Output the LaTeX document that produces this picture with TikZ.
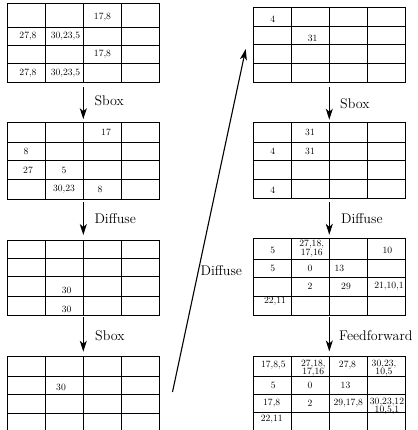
\documentclass[tikz,border=0pt]{standalone}
\usetikzlibrary{arrows.meta}
\newcommand{\mygrid}[7]{%
  \node[gridline, draw, anchor=north west, inner sep=0pt, outer sep=0pt,
        minimum width=152pt, minimum height={#7-#3}] (#1) at (#2,#3) {};
  \foreach \yy in {#4,#5,#6} \draw[gridline] (#2,\yy) -- ++(152,0);
  \foreach \ii in {1,2,3} \draw[gridline] (#2+\ii*38,#3) -- (#2+\ii*38,#7);
}
\begin{document}
\begin{tikzpicture}[x=1pt,y=-1pt,
  gridline/.style={line width=1pt},
  cell/.style={font=\fontsize{9.6}{8.4}\selectfont, inner sep=0pt, align=center},
  lbl/.style={font=\fontsize{14}{16}\selectfont, inner sep=0pt, anchor=west},
  flow/.style={line width=1.1pt, -{Stealth[length=11pt,width=7pt,inset=3pt]}}]
\useasboundingbox (0,0) rectangle (417,430);
\clip (0,0) rectangle (417,430);

% grids
\mygrid{L1}{7.3}{4}{27.3}{45.7}{64}{82.7}
\mygrid{L2}{7.3}{122.7}{142.3}{160.7}{179.3}{199.3}
\mygrid{L3}{7.3}{240}{258.3}{276.7}{296}{315}
\mygrid{L4}{7.3}{356.7}{376}{394}{413.3}{432.5}
\mygrid{R1}{253.3}{7.3}{26.7}{45}{64}{82.7}
\mygrid{R2}{253.3}{122.7}{142.3}{160.7}{179.3}{198.3}
\mygrid{R3}{253.3}{238.3}{259}{277.3}{296}{315}
\mygrid{R4}{253.3}{356}{376}{394}{412.7}{432}

% cells L1
\node[cell] (l1a) at (102.5,17) {17,8};
\node[cell] (l1b) at (28,36) {27,8};
\node[cell] (l1c) at (65.5,36) {30,23,5};
\node[cell] (l1d) at (102.5,54.5) {17,8};
\node[cell] (l1e) at (28,73) {27,8};
\node[cell] (l1f) at (65.5,73) {30,23,5};
% cells L2
\node[cell] (l2a) at (106,132.5) {17};
\node[cell] (l2b) at (26,151) {8};
\node[cell] (l2c) at (28,170) {27};
\node[cell] (l2d) at (64,170) {5};
\node[cell] (l2e) at (64,189) {30,23};
\node[cell] (l2f) at (100,189) {8};
% cells L3
\node[cell] (l3a) at (66.7,290) {30};
\node[cell] (l3b) at (66.7,309) {30};
% cells L4
\node[cell] (l4a) at (61,387) {30};
% cells R1
\node[cell] (r1a) at (272.7,19) {4};
\node[cell] (r1b) at (312.7,38) {31};
% cells R2
\node[cell] (r2a) at (310,132.5) {31};
\node[cell] (r2b) at (272.7,151.5) {4};
\node[cell] (r2c) at (310,151.5) {31};
\node[cell] (r2d) at (272.7,190) {4};
% cells R3
\node[cell] (r3a) at (272.7,250) {5};
\node[cell] (r3b) at (311.7,248.5) {27,18,\\17,16};
\node[cell] (r3c) at (387.3,250) {10};
\node[cell] (r3d) at (272.7,268.3) {5};
\node[cell] (r3e) at (310,268.3) {0};
\node[cell] (r3f) at (339.3,268.3) {13};
\node[cell] (r3g) at (310,286) {2};
\node[cell] (r3h) at (346,286) {29};
\node[cell] (r3i) at (389,286) {21,10,1};
\node[cell] (r3j) at (275,301.7) {22,11};
% cells R4
\node[cell] (r4a) at (273.3,365.5) {17,8,5};
\node[cell] (r4b) at (313.3,368) {27,18,\\17,16};
\node[cell] (r4c) at (347.5,365.5) {27,8};
\node[cell] (r4d) at (384,368) {30,23,\\10,5};
\node[cell] (r4e) at (273.3,385) {5};
\node[cell] (r4f) at (310,385) {0};
\node[cell] (r4g) at (345.5,385) {13};
\node[cell] (r4h) at (271.7,403.5) {17,8};
\node[cell] (r4i) at (310,403.5) {2};
\node[cell] (r4j) at (348.3,403.5) {29,17,8};
\node[cell] (r4k) at (387,406.5) {30,23,12\\10,5,1};
\node[cell] (r4l) at (271.7,419.3) {22,11};

% arrows
\draw[flow, shorten <=4.5pt, shorten >=3.5pt] (L1.south) -- (L2.north);
\draw[flow, shorten <=2.5pt, shorten >=5pt] (L2.south) -- (L3.north);
\draw[flow, shorten <=2pt, shorten >=5pt] (L3.south) -- (L4.north);
\draw[flow, shorten <=4pt, shorten >=3pt] (R1.south) -- (R2.north);
\draw[flow, shorten <=3.5pt, shorten >=3.5pt] (R2.south) -- (R3.north);
\draw[flow, shorten <=2pt, shorten >=4.5pt] (R3.south) -- (R4.north);
\coordinate (dstart) at (172.5,392);
\coordinate (dend) at (245.7,49);
\draw[flow] (dstart) -- (dend);

% labels
\node[lbl] (t1) at (94.3,101) {Sbox};
\node[lbl] (t2) at (94.3,219) {Diffuse};
\node[lbl] (t3) at (95,336) {Sbox};
\node[lbl] (t4) at (340,104) {Sbox};
\node[lbl] (t5) at (341,219) {Diffuse};
\node[lbl] (t6) at (200.5,271) {Diffuse};
\node[lbl] (t7) at (339,336) {Feedforward};
\end{tikzpicture}
\end{document}
